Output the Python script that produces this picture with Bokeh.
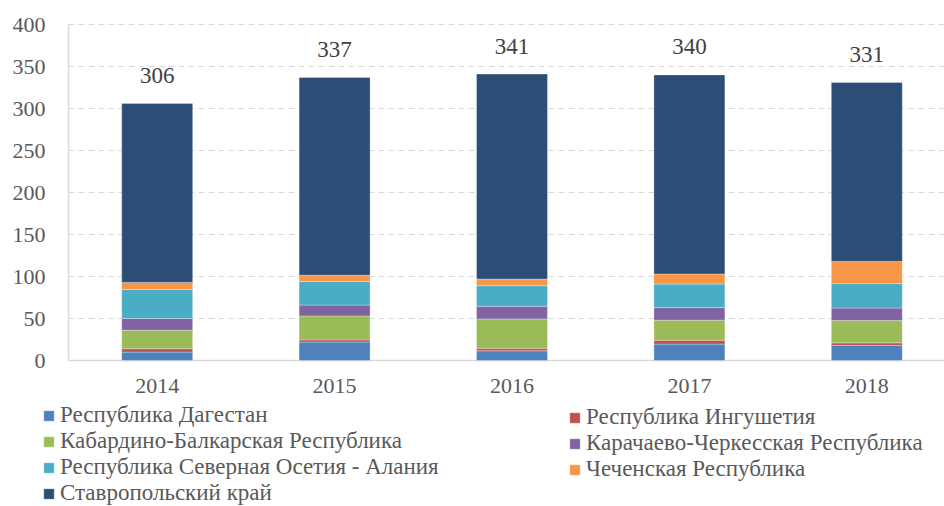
from bokeh.plotting import figure
from bokeh.models import ColumnDataSource, Range1d, Legend, LegendItem
from bokeh.embed import file_html
from bokeh.resources import INLINE

years = ["2014", "2015", "2016", "2017", "2018"]
dagestan = [10, 22, 11.5, 19.5, 18]
ingushetia = [4, 2.5, 3, 4.5, 3]
kbr = [22, 28.5, 35, 24, 26.5]
kchr = [14, 13, 15, 15, 15]
ossetia = [34.5, 28, 24.5, 28, 29]
chechnya = [8.5, 7.5, 8, 12, 26.5]
stavropol = [213, 235.5, 244, 237, 213]
totals = [306, 337, 341, 340, 331]
y_ticks = [0, 50, 100, 150, 200, 250, 300, 350, 400]

series_names = ["Республика Дагестан", "Республика Ингушетия",
                "Кабардино-Балкарская Республика", "Карачаево-Черкесская Республика",
                "Республика Северная Осетия - Алания", "Чеченская Республика",
                "Ставропольский край"]
colors = ["#4F81BD", "#C0504D", "#9BBB59", "#8064A2", "#4BACC6", "#F79646", "#2C4D75"]
keys = ["dag", "ing", "kbr", "kchr", "oss", "che", "sta"]

FONT = "Liberation Serif"
W, H = 944, 506
PLOT_L, PLOT_T, PLOT_B = 68, 24, 360     # pixel edges of the plotting area
BAND = 177.4                              # pixels per category
YMAX = y_ticks[-1]
PX_PER_UNIT = (PLOT_B - PLOT_T) / YMAX

x0 = -0.5 - PLOT_L / BAND
x1 = -0.5 + (W - PLOT_L) / BAND
y_top = YMAX + PLOT_T / PX_PER_UNIT
y_bot = -(H - PLOT_B) / PX_PER_UNIT

xs = list(range(len(years)))
src = ColumnDataSource(dict(x=xs, dag=dagestan, ing=ingushetia, kbr=kbr, kchr=kchr,
                            oss=ossetia, che=chechnya, sta=stavropol,
                            tot=totals, lab=[str(t) for t in totals], yr=years,
                            zero=[0] * len(xs)))

p = figure(width=W, height=H, output_backend="svg", toolbar_location=None,
           x_range=Range1d(x0, x1), y_range=Range1d(y_bot, y_top),
           x_axis_location=None, y_axis_location=None, min_border=0)
p.outline_line_color = None
p.grid.visible = False

# gridlines (dashed) and axis lines
gsrc = ColumnDataSource(dict(y=y_ticks[1:], xa=[-0.5] * (len(y_ticks) - 1),
                             xb=[x1] * (len(y_ticks) - 1)))
p.segment(x0="xa", y0="y", x1="xb", y1="y", source=gsrc, line_color="#d9d9d9",
          line_width=1.2, line_dash="6 4")
p.segment(x0=[-0.5], y0=[0], x1=[x1], y1=[0], line_color="#d9d9d9", line_width=1.5)
p.segment(x0=[-0.5], y0=[0], x1=[-0.5], y1=[YMAX], line_color="#d9d9d9", line_width=1.5)

rs = p.vbar_stack(keys, x="x", width=0.4, source=src, color=colors,
                  line_color="white", line_width=0.6, line_alpha=0.5)

# totals
p.text(x="x", y="tot", text="lab", source=src, text_align="center",
       text_baseline="alphabetic", y_offset=-28, text_font=FONT,
       text_font_size="23px", text_color="#404040")
# x tick labels
p.text(x="x", y="zero", text="yr", source=src, text_align="center", text_baseline="top",
       y_offset=18, text_font=FONT, text_font_size="22px", text_color="#595959")
# y tick labels
ysrc = ColumnDataSource(dict(y=y_ticks, x=[-0.5] * len(y_ticks), t=[str(v) for v in y_ticks]))
p.text(x="x", y="y", text="t", source=ysrc, text_align="right", text_baseline="middle",
       x_offset=-23, text_font=FONT, text_font_size="22px", text_color="#595959")

def make_legend(idx, loc):
    return Legend(items=[LegendItem(label=series_names[i], renderers=[rs[i]]) for i in idx],
                  location=loc, orientation="vertical",
                  label_text_font=FONT, label_text_font_size="23px", label_text_color="#595959",
                  glyph_width=13, glyph_height=13, label_standoff=5, spacing=0,
                  label_height=24, padding=0, margin=0,
                  border_line_color=None, background_fill_alpha=0)

p.add_layout(make_legend([0, 2, 4, 6], (42, 0)))
p.add_layout(make_legend([1, 3, 5], (568, 24)))

open("out.html", "w").write(file_html(p, INLINE))
